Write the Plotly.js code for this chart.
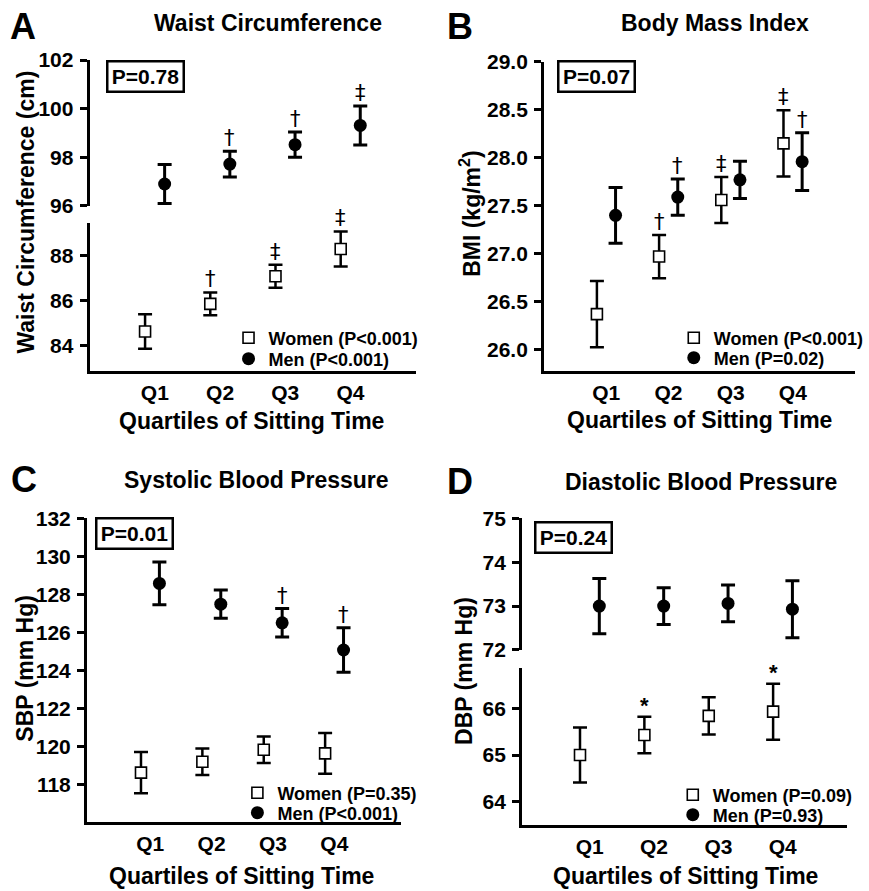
<!DOCTYPE html>
<html>
<head>
<meta charset="utf-8">
<script src="https://cdn.plot.ly/plotly-3.0.1.min.js"></script>
<style>
html,body{margin:0;padding:0;background:#fff;}
#chart{width:869px;height:891px;}
</style>
</head>
<body>
<div id="chart"></div>
<script>
// ---------------- data ----------------
var categories = ["Q1", "Q2", "Q3", "Q4"];

var waistWomen    = [84.64, 85.87, 87.10, 88.31];
var waistWomenErr = [0.77, 0.51, 0.51, 0.78];
var waistMen      = [96.90, 97.72, 98.52, 99.31];
var waistMenErr   = [0.80, 0.53, 0.52, 0.80];

var bmiWomen    = [26.37, 26.97, 27.56, 28.15];
var bmiWomenErr = [0.345, 0.225, 0.24, 0.345];
var bmiMen      = [27.40, 27.59, 27.77, 27.96];
var bmiMenErr   = [0.29, 0.19, 0.195, 0.30];

var sbpWomen    = [118.65, 119.22, 119.85, 119.66];
var sbpWomenErr = [1.08, 0.70, 0.70, 1.07];
var sbpMen      = [128.59, 127.50, 126.52, 125.09];
var sbpMenErr   = [1.12, 0.74, 0.75, 1.17];

var dbpWomen    = [65.00, 65.43, 65.84, 65.93];
var dbpWomenErr = [0.59, 0.39, 0.40, 0.60];
var dbpMen      = [73.00, 73.00, 73.06, 72.93];
var dbpMenErr   = [0.63, 0.42, 0.42, 0.65];

// significance symbols above error bars
var waistWomenSig = ["", "\u2020", "\u2021", "\u2021"];
var waistMenSig   = ["", "\u2020", "\u2020", "\u2021"];
var bmiWomenSig   = ["", "\u2020", "\u2021", "\u2021"];
var bmiMenSig     = ["", "\u2020", "", "\u2020"];
var sbpWomenSig   = ["", "", "", ""];
var sbpMenSig     = ["", "", "\u2020", "\u2020"];
var dbpWomenSig   = ["", "*", "", "*"];
var dbpMenSig     = ["", "", "", ""];

var panelLetters = ["A", "B", "C", "D"];
var panelTitles  = ["Waist Circumference", "Body Mass Index", "Systolic Blood Pressure", "Diastolic Blood Pressure"];
var yTitles      = ["Waist Circumference (cm)", "BMI (kg/m<sup>2</sup>)", "SBP (mm Hg)", "DBP (mm Hg)"];
var xTitle       = "Quartiles of Sitting Time";
var interactionP = ["P=0.78", "P=0.07", "P=0.01", "P=0.24"];
var womenLegend  = ["Women (P&lt;0.001)", "Women (P&lt;0.001)", "Women (P=0.35)", "Women (P=0.09)"];
var menLegend    = ["Men (P&lt;0.001)", "Men (P=0.02)", "Men (P&lt;0.001)", "Men (P=0.93)"];

// ---------------- layout helpers ----------------
var W = 869, H = 891;
function px(x) { return x / W; }
function py(y) { return 1 - y / H; }
var FAM = "Liberation Sans, Arial, Helvetica, sans-serif";
var SYM = "DejaVu Sans, Liberation Sans, sans-serif";
var OFF = 0.15;

var xWomen = categories.map(function (c, i) { return i + 1 - OFF; });
var xMen   = categories.map(function (c, i) { return i + 1 + OFF; });

var traces = [];
var annotations = [];

function addSeries(xa, ya, xs, ys, errs, isMen, legendId, name, sig, sigFont, sigShift) {
  traces.push({
    type: "scatter", mode: "markers",
    x: xs, y: ys, xaxis: xa, yaxis: ya,
    name: name, legend: legendId, showlegend: true,
    cliponaxis: false, hoverinfo: "skip",
    error_y: { type: "data", array: errs, visible: true, color: "black",
               thickness: isMen ? 3 : 2.5, width: 7 },
    marker: isMen ? { symbol: "circle", size: 13, color: "black" }
                  : { symbol: "square", size: 11, color: "white", line: { color: "black", width: 1.6 } }
  });
  for (var i = 0; i < sig.length; i++) {
    if (!sig[i]) continue;
    annotations.push({
      xref: xa, yref: ya, x: xs[i], y: ys[i] + errs[i],
      text: sig[i], showarrow: false, xanchor: "center", yanchor: "bottom",
      yshift: sigShift, font: sigFont
    });
  }
}

var daggerFont = { family: SYM, size: 21, color: "black" };
var starFont = { family: FAM, size: 22, color: "black", weight: 700 };

addSeries("x", "y2", xWomen, waistWomen, waistWomenErr, false, "legend", womenLegend[0], waistWomenSig, daggerFont, -1);
addSeries("x", "y", xMen, waistMen, waistMenErr, true, "legend2", menLegend[0], waistMenSig, daggerFont, -1);
addSeries("x2", "y3", xWomen, bmiWomen, bmiWomenErr, false, "legend3", womenLegend[1], bmiWomenSig, daggerFont, -1);
addSeries("x2", "y3", xMen, bmiMen, bmiMenErr, true, "legend4", menLegend[1], bmiMenSig, daggerFont, -1);
addSeries("x3", "y4", xWomen, sbpWomen, sbpWomenErr, false, "legend5", womenLegend[2], sbpWomenSig, daggerFont, -1);
addSeries("x3", "y4", xMen, sbpMen, sbpMenErr, true, "legend6", menLegend[2], sbpMenSig, daggerFont, -1);
addSeries("x4", "y6", xWomen, dbpWomen, dbpWomenErr, false, "legend7", womenLegend[3], dbpWomenSig, starFont, -3);
addSeries("x4", "y5", xMen, dbpMen, dbpMenErr, true, "legend8", menLegend[3], dbpMenSig, starFont, -3);

var tickFont = { family: FAM, size: 21, color: "black", weight: 700 };

function xAxis(d0, d1, range, anchor) {
  return { domain: [px(d0), px(d1)], range: range, anchor: anchor,
    showline: true, linewidth: 3, linecolor: "black", ticks: "",
    tickmode: "array", tickvals: [1, 2, 3, 4], ticktext: categories,
    ticklabelstandoff: 1,
    showgrid: false, zeroline: false, fixedrange: true, tickfont: tickFont };
}
function yAxis(top, bottom, range, anchor, tickvals, fmt) {
  var a = { domain: [py(bottom), py(top)], range: range, anchor: anchor,
    showline: true, linewidth: 3, linecolor: "black",
    ticks: "outside", ticklen: 7, tickwidth: 3, tickcolor: "black",
    ticklabelstandoff: 2,
    tickmode: "array", tickvals: tickvals,
    showgrid: false, zeroline: false, fixedrange: true, tickfont: tickFont };
  if (fmt) { a.ticktext = tickvals.map(function (v) { return v.toFixed(1); }); }
  return a;
}

// legends (one entry each, positioned individually)
function legendAt(textStartX, rowY) {
  return { x: px(textStartX - 36), y: py(rowY), xanchor: "left", yanchor: "middle",
    bgcolor: "rgba(0,0,0,0)", borderwidth: 0, itemwidth: 30,
    font: { family: FAM, size: 18, color: "black", weight: 700 } };
}

// text annotations in paper coordinates
function paperText(text, x, y, size, angle) {
  annotations.push({ xref: "paper", yref: "paper", x: px(x), y: py(y), text: text,
    showarrow: false, xanchor: "center", yanchor: "middle", textangle: angle || 0,
    font: { family: FAM, size: size, color: "black", weight: 700 } });
}
var letterPos = [[23.5, 27], [467, 27], [24, 479], [466.5, 481]];
var titlePos  = [[271.7, 23], [726, 23], [260, 480], [712, 482]];
var xTitlePos = [[255.7, 421], [710, 420], [244.7, 876], [695.5, 876]];
var yTitlePos = [[26, 212], [477, 213], [25, 668], [471, 671]];
var pBoxPos   = [[148, 76.5], [606, 76.5], [136.5, 533.5], [582.5, 537.5]];
for (var k = 0; k < 4; k++) {
  paperText(panelLetters[k], letterPos[k][0], letterPos[k][1], 36);
  paperText(panelTitles[k], titlePos[k][0], titlePos[k][1], 23);
  paperText(xTitle, xTitlePos[k][0], xTitlePos[k][1], 23);
  paperText(yTitles[k], yTitlePos[k][0], yTitlePos[k][1], 23, -90);
  annotations.push({ xref: "paper", yref: "paper", x: px(pBoxPos[k][0]), y: py(pBoxPos[k][1]),
    text: interactionP[k], showarrow: false, xanchor: "center", yanchor: "middle",
    width: 70, height: 24, borderpad: 2, borderwidth: 2.5, bordercolor: "black",
    font: { family: FAM, size: 21, color: "black", weight: 700 } });
}

var layout = {
  width: W, height: H,
  margin: { l: 0, r: 0, t: 0, b: 0, pad: 0 },
  paper_bgcolor: "white", plot_bgcolor: "white",
  font: { family: FAM, color: "black" },
  xaxis:  xAxis(91, 422, [0, 5], "y2"),
  yaxis:  yAxis(60, 206, [95.995, 102.005], "x", [96, 98, 100, 102]),
  yaxis2: yAxis(223.3, 370.7, [82.9, 89.45], "x", [84, 86, 88]),
  xaxis2: xAxis(552.3, 868, [0, 5], "y3"),
  yaxis3: yAxis(61.6, 370.7, [25.78, 29.003], "x2", [26, 26.5, 27, 27.5, 28, 28.5, 29], true),
  xaxis3: xAxis(88.3, 406.7, [-0.03, 5.08], "y4"),
  yaxis4: yAxis(518.3, 821.7, [116.07, 132.01], "x3", [118, 120, 122, 124, 126, 128, 130, 132]),
  xaxis4: xAxis(530, 860, [-0.05, 5], "y6"),
  yaxis5: yAxis(518.3, 650, [71.998, 75.003], "x4", [72, 73, 74, 75]),
  yaxis6: yAxis(668.3, 825, [63.5, 66.86], "x4", [64, 65, 66]),
  legend:  legendAt(268, 338),
  legend2: legendAt(268, 359),
  legend3: legendAt(720, 338),
  legend4: legendAt(720, 358),
  legend5: legendAt(277, 793),
  legend6: legendAt(277, 813),
  legend7: legendAt(719, 795),
  legend8: legendAt(719, 815),
  annotations: annotations,
  showlegend: true
};

Plotly.newPlot("chart", traces, layout, { displayModeBar: false, staticPlot: true });
</script>
</body>
</html>
